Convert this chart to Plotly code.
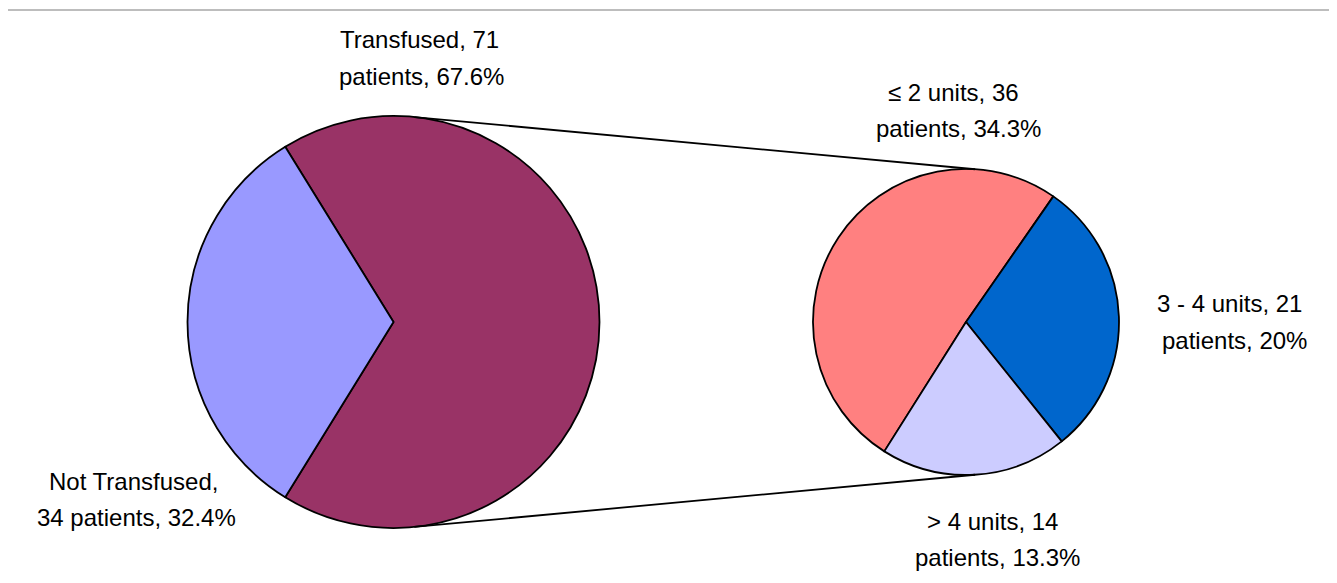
import math
import plotly.graph_objects as go

# ---- data ----
main_labels = ["Transfused", "Not Transfused"]
main_values = [71, 34]
main_colors = ["#993366", "#9999FF"]

sub_labels = ["\u2264 2 units", "3 - 4 units", "> 4 units"]
sub_values = [36, 21, 14]
sub_colors = ["#FF8080", "#0066CC", "#CCCCFF"]

total = sum(main_values)

# ---- geometry (screen pixels) ----
W, H = 1337, 583
OFF = 8  # page body margin offset
L_CX, L_CY, L_R = 393.5, 322, 206
R_CX, R_CY, R_R = 966, 322, 153


def px(x, y):
    return (x - OFF) / W, 1 - (y - OFF) / H


def dom(cx, cy, r):
    xa, ya = px(cx - r, cy + r)
    xb, yb = px(cx + r, cy - r)
    return dict(x=[xa, xb], y=[ya, yb])


# main pie: "Not Transfused" centred at 9 o'clock
nt_angle = main_values[1] / total * 360
main_rot = (270 + nt_angle / 2) - 360
# sub pie: boundary between first and second slice at ~34.8 deg clockwise from 12
sub_rot = 34.8 - sub_values[0] / sum(sub_values) * 360

fig = go.Figure()
fig.add_trace(go.Pie(
    labels=main_labels, values=main_values, sort=False, direction="clockwise",
    rotation=main_rot, domain=dom(L_CX, L_CY, L_R),
    marker=dict(colors=main_colors, line=dict(color="black", width=1.8)),
    textinfo="none", hoverinfo="none", showlegend=False,
))
fig.add_trace(go.Pie(
    labels=sub_labels, values=sub_values, sort=False, direction="clockwise",
    rotation=sub_rot, domain=dom(R_CX, R_CY, R_R),
    marker=dict(colors=sub_colors, line=dict(color="black", width=1.8)),
    textinfo="none", hoverinfo="none", showlegend=False,
))

shapes = []
# top separator line
x0, y0 = px(6, 10)
x1, y1 = px(1336, 10)
shapes.append(dict(type="line", xref="paper", yref="paper", x0=x0, y0=y0, x1=x1, y1=y1,
                   line=dict(color="#BDBDBD", width=2)))
# connector lines
la = math.radians(5.8)
ra = math.radians(3.4)
for s in (-1, 1):
    lx = L_CX + L_R * math.sin(la)
    ly = L_CY + s * L_R * math.cos(la)
    rx = R_CX + R_R * math.sin(ra)
    ry = R_CY + s * R_R * math.cos(ra)
    a0, b0 = px(lx, ly)
    a1, b1 = px(rx, ry)
    shapes.append(dict(type="line", xref="paper", yref="paper", x0=a0, y0=b0, x1=a1, y1=b1,
                       line=dict(color="black", width=1.8)))


def pct(v):
    p = round(v / total * 100, 1)
    return f"{p:g}%"


labels_txt = [
    (f"{main_labels[0]}, {main_values[0]}", f"patients, {pct(main_values[0])}", 419, 40, 421, 76),
    (f"{main_labels[1]},", f"{main_values[1]} patients, {pct(main_values[1])}", 133, 481, 136, 517),
    (f"{sub_labels[0]}, {sub_values[0]}", f"patients, {pct(sub_values[0])}", 953, 92, 958, 128),
    (f"{sub_labels[1]}, {sub_values[1]}", f"patients, {pct(sub_values[1])}", 1229, 303, 1234, 340),
    (f"{sub_labels[2]}, {sub_values[2]}", f"patients, {pct(sub_values[2])}", 992, 521, 997, 557),
]

annotations = []
for t1, t2, x1_, y1_, x2_, y2_ in labels_txt:
    for t, xx, yy in ((t1, x1_, y1_), (t2, x2_, y2_)):
        ax, ay = px(xx, yy)
        annotations.append(dict(text=t, x=ax, y=ay, xref="paper", yref="paper",
                                xanchor="center", yanchor="middle", showarrow=False,
                                font=dict(family="Liberation Sans, Arial, sans-serif",
                                          size=24, color="black")))

fig.update_layout(
    width=W, height=H,
    margin=dict(l=0, r=0, t=0, b=0),
    paper_bgcolor="white", plot_bgcolor="white",
    shapes=shapes, annotations=annotations,
    showlegend=False,
)

fig.write_html("out.html")
